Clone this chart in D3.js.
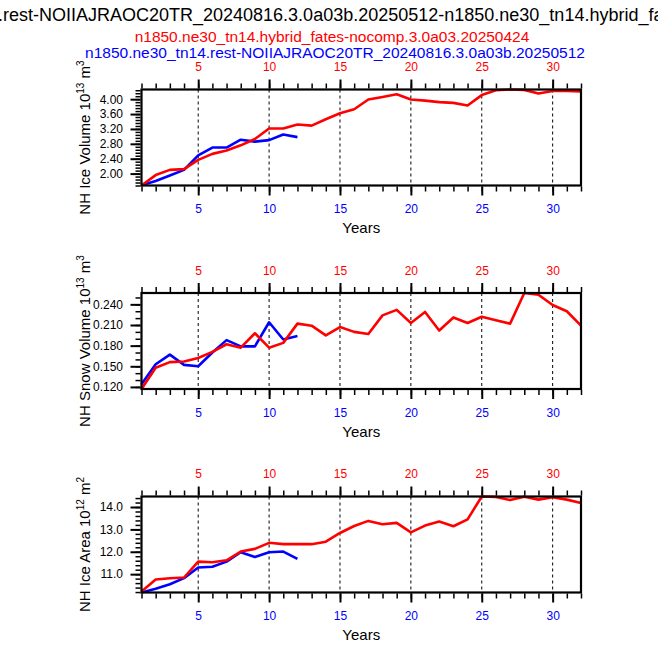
<!DOCTYPE html>
<html>
<head>
<meta charset="utf-8">
<script src="https://cdn.jsdelivr.net/npm/d3@7"></script>
<style>
body { margin: 0; background: #fff; }
svg { font-family: "Liberation Sans", Arial, Helvetica, sans-serif; }
</style>
</head>
<body>
<svg width="658" height="647"></svg>
<script>
// case names
var mainTitle = 'n1850.ne30_tn14.rest-NOIIAJRAOC20TR_20240816.3.0a03b.20250512-n1850.ne30_tn14.hybrid_fates-nocomp.3.0a03.20250424';
var titlePrefix = 'n1850.ne30_tn14.';
var redCase = 'n1850.ne30_tn14.hybrid_fates-nocomp.3.0a03.20250424';
var blueCase = 'n1850.ne30_tn14.rest-NOIIAJRAOC20TR_20240816.3.0a03b.20250512';

// years
var redYears = [1,2,3,4,5,6,7,8,9,10,11,12,13,14,15,16,17,18,19,20,21,22,23,24,25,26,27,28,29,30,31,32];
var blueYears = [1,2,3,4,5,6,7,8,9,10,11,12];
var xMajor = [5,10,15,20,25,30];

// NH ice volume (10^13 m^3)
var iceVolRed = [1.68,1.96,2.10,2.12,2.37,2.53,2.62,2.76,2.93,3.21,3.21,3.32,3.29,3.46,3.62,3.73,
                 3.99,4.06,4.13,3.99,3.96,3.92,3.90,3.83,4.11,4.24,4.26,4.25,4.15,4.22,4.22,4.21];
var iceVolBlue = [1.69,1.80,1.95,2.10,2.49,2.70,2.70,2.91,2.86,2.90,3.05,2.98];
var iceVolTicks = [2.00,2.40,2.80,3.20,3.60,4.00];

// NH snow volume (10^13 m^3)
var snowRed = [0.117,0.148,0.156,0.157,0.162,0.171,0.182,0.177,0.198,0.177,0.184,0.212,0.209,0.195,0.207,0.200,
               0.197,0.224,0.232,0.213,0.229,0.202,0.221,0.213,0.222,0.217,0.212,0.2565,0.254,0.239,0.230,0.209];
var snowBlue = [0.124,0.153,0.167,0.152,0.150,0.170,0.188,0.179,0.179,0.214,0.189,0.194];
var snowTicks = [0.120,0.150,0.180,0.210,0.240];

// NH ice area (10^12 m^2)
var areaRed = [10.23,10.76,10.82,10.85,11.56,11.53,11.62,12.01,12.13,12.40,12.34,12.34,12.34,12.45,12.84,13.15,
               13.38,13.23,13.29,12.87,13.17,13.35,13.14,13.45,14.47,14.45,14.31,14.46,14.33,14.44,14.33,14.18];
var areaBlue = [10.18,10.35,10.55,10.82,11.30,11.33,11.56,11.98,11.77,11.98,12.01,11.68];
var areaTicks = [11.0,12.0,13.0,14.0];

var svg = d3.select('svg');
var plotL = 141.5, plotR = 581, plotH = 96;
var panelTops = [89.5, 293, 496.5];
var red = '#ff0000', blue = '#0000ff';

var panels = [
    {red: iceVolRed, blue: iceVolBlue, ticks: iceVolTicks, minor: 0.08, fmt: '.2f',
     label: 'NH Ice Volume 10', exp: '13', unit: ' m', uexp: '3'},
    {red: snowRed, blue: snowBlue, ticks: snowTicks, minor: 0.01, fmt: '.3f',
     label: 'NH Snow Volume 10', exp: '13', unit: ' m', uexp: '3'},
    {red: areaRed, blue: areaBlue, ticks: areaTicks, minor: 0.2, fmt: '.1f',
     label: 'NH Ice Area 10', exp: '12', unit: ' m', uexp: '2'}
];

var xScale = d3.scaleLinear().domain([1, 32]).range([plotL, plotR]);

// titles (main title runs off both page edges, like the original)
var title = svg.append('text')
    .attr('y', 20.5)
    .style('font-size', '18px')
    .text(mainTitle);
var pre = svg.append('text').style('font-size', '18px').text(titlePrefix);
var preW = pre.node().getComputedTextLength();
pre.remove();
title.attr('x', 3 - preW);

svg.append('text').attr('x', 332).attr('y', 42).attr('text-anchor', 'middle')
    .style('font-size', '15.5px').style('fill', red).text(redCase);
svg.append('text').attr('x', 335).attr('y', 57.5).attr('text-anchor', 'middle')
    .style('font-size', '15.5px').style('fill', blue).text(blueCase);

function styleAxis(g, color, width) {
    g.select('.domain').remove();
    g.selectAll('line').attr('stroke', '#000').attr('stroke-width', width);
    g.selectAll('text').style('font-size', '12px').style('fill', color)
        .style('font-family', '"Liberation Sans", Arial, Helvetica, sans-serif');
}

panels.forEach(function(p, i) {
    var top = panelTops[i], bottom = top + plotH;
    var ext = d3.extent(p.red.concat(p.blue));
    var yScale = d3.scaleLinear().domain(ext).range([bottom, top]);
    var g = svg.append('g');

    // dashed reference lines
    g.selectAll('line.grid')
        .data(xMajor)
        .enter()
        .append('line')
        .attr('class', 'grid')
        .attr('x1', function(d){return xScale(d);})
        .attr('x2', function(d){return xScale(d);})
        .attr('y1', top)
        .attr('y2', bottom)
        .attr('stroke', '#000')
        .attr('stroke-width', 1)
        .attr('stroke-dasharray', '3,3');

    var line = function(years) {
        return d3.line()
            .x(function(d, k){return xScale(years[k]);})
            .y(function(d){return yScale(d);});
    };

    g.append('path').datum(p.blue)
        .attr('d', line(blueYears))
        .attr('fill', 'none').attr('stroke', blue).attr('stroke-width', 2.6)
        .attr('stroke-linejoin', 'round');
    g.append('path').datum(p.red)
        .attr('d', line(redYears))
        .attr('fill', 'none').attr('stroke', red).attr('stroke-width', 2.6)
        .attr('stroke-linejoin', 'round');

    // frame
    g.append('rect')
        .attr('x', plotL).attr('y', top)
        .attr('width', plotR - plotL).attr('height', plotH)
        .attr('fill', 'none').attr('stroke', '#000').attr('stroke-width', 2.2);

    // bottom axis
    g.append('g').attr('transform', 'translate(0,' + (bottom + 1) + ')')
        .call(d3.axisBottom(xScale).tickValues(redYears).tickSize(5).tickFormat(''))
        .call(styleAxis, blue, 1.5);
    g.append('g').attr('transform', 'translate(0,' + (bottom + 1) + ')')
        .call(d3.axisBottom(xScale).tickValues(xMajor).tickSize(9).tickPadding(9))
        .call(styleAxis, blue, 2);

    // top axis
    g.append('g').attr('transform', 'translate(0,' + (top - 1) + ')')
        .call(d3.axisTop(xScale).tickValues(redYears).tickSize(5).tickFormat(''))
        .call(styleAxis, red, 1.5);
    g.append('g').attr('transform', 'translate(0,' + (top - 1) + ')')
        .call(d3.axisTop(xScale).tickValues(xMajor).tickSize(9).tickPadding(8.5))
        .call(styleAxis, red, 2);

    // left axis
    var minorTicks = d3.range(Math.ceil(ext[0] / p.minor - 1e-6), Math.floor(ext[1] / p.minor + 1e-6) + 1)
        .map(function(k){return k * p.minor;});
    g.append('g').attr('transform', 'translate(' + (plotL - 1) + ',0)')
        .call(d3.axisLeft(yScale).tickValues(minorTicks).tickSize(5).tickFormat(''))
        .call(styleAxis, '#000', 1.5);
    g.append('g').attr('transform', 'translate(' + (plotL - 1) + ',0)')
        .call(d3.axisLeft(yScale).tickValues(p.ticks).tickSize(10).tickPadding(7.5).tickFormat(d3.format(p.fmt)))
        .call(styleAxis, '#000', 2);

    // x title
    g.append('text')
        .attr('x', (plotL + plotR) / 2)
        .attr('y', bottom + 47.5)
        .attr('text-anchor', 'middle')
        .style('font-size', '15px')
        .text('Years');

    // y title
    var yt = g.append('text')
        .attr('transform', 'translate(90,' + (top + plotH / 2) + ') rotate(-90)')
        .attr('text-anchor', 'middle')
        .style('font-size', '15px');
    yt.append('tspan').text(p.label);
    yt.append('tspan').attr('dy', -6).style('font-size', '10px').text(p.exp);
    yt.append('tspan').attr('dy', 6).text(p.unit);
    yt.append('tspan').attr('dy', -6).style('font-size', '10px').text(p.uexp);
});
</script>
</body>
</html>
